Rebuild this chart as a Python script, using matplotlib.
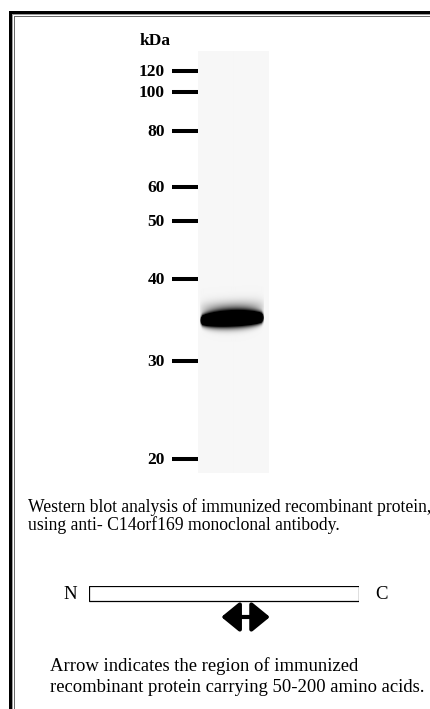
import numpy as np
import matplotlib
matplotlib.use("Agg")
import matplotlib.pyplot as plt
from matplotlib.patches import Rectangle

# ladder markers (kDa) and their migration distance from top of lane (px on gel)
marker_kda = ["120", "100", "80", "60", "50", "40", "30", "20"]
marker_pos = [20, 41, 80, 136, 170, 228, 310, 408]

# detected band
band_pos = 268      # migration distance
band_tilt = 3       # left end sits lower than right end

# protein schematic: full length and immunized region (fraction of length)
protein_len = 1.0
region = [0.49, 0.67]

caption = ["Western blot analysis of immunized recombinant protein,",
           "using anti- C14orf169 monoclonal antibody."]
note = ["Arrow indicates the region of immunized",
        "recombinant protein carrying 50-200 amino acids."]

W, H = 431, 709
fig = plt.figure(figsize=(W / 100, H / 100), dpi=100)
fig.patch.set_facecolor("white")

# background axes in pixel units for frame and text
bg = fig.add_axes([0, 0, 1, 1])
bg.set_xlim(0, W)
bg.set_ylim(H, 0)
bg.axis("off")

# frame (top and left edge, double line look)
bg.add_patch(Rectangle((9, 11), W, 3.3, color="black", lw=0))
bg.add_patch(Rectangle((9, 11), 3.3, H, color="black", lw=0))
bg.add_patch(Rectangle((12.3, 14.3), W, 1.0, color="#9a9a9a", lw=0))
bg.add_patch(Rectangle((12.3, 14.3), 1.0, H, color="#9a9a9a", lw=0))
bg.add_patch(Rectangle((14.2, 16.2), W, 1.0, color="#6a6a6a", lw=0))
bg.add_patch(Rectangle((14.2, 16.2), 1.0, H, color="#6a6a6a", lw=0))

serif = "Liberation Serif"

# gel lane
lane_top, lane_bot = 51, 473
lane_l, lane_r = 198, 268
gel = fig.add_axes([lane_l / W, 1 - lane_bot / H, (lane_r - lane_l) / W, (lane_bot - lane_top) / H])
gel.set_xlim(0, 1)
gel.set_ylim(lane_bot - lane_top, 0)
gel.axis("off")

ny, nx = lane_bot - lane_top, lane_r - lane_l
yy = (np.arange(ny) + 0.5)[:, None]
xx = ((np.arange(nx) + 0.5) / nx)[None, :]
yc = band_pos + band_tilt * (0.5 - xx)
u = np.clip(1 - ((xx - 0.48) / 0.455) ** 2, 0, 1)
half = 2.0 + 5.5 * u ** 0.4
core = 2.4 * np.exp(-((yy - yc) / half) ** 2) * np.clip(u * 6, 0, 1)
glow = 0.36 * np.exp(-((yy - yc + 10) / 8.0) ** 2) * u ** 0.5
dark = np.clip(core + glow, 0, 1)
lane = 0.965 * (1 - dark)
gel.imshow(lane, extent=(0, 1, lane_bot - lane_top, 0), cmap="gray",
           vmin=0, vmax=1, aspect="auto", interpolation="bilinear")

# ladder ticks and labels
px = 1 / (lane_r - lane_l)
gel.hlines(marker_pos, -26 * px, 0, colors="black", lw=2.9, clip_on=False)
for lab, p in zip(marker_kda, marker_pos):
    gel.text(-33 * px, p + 1, lab, ha="right", va="center", fontsize=12.5,
             fontweight="bold", family=serif, clip_on=False)
gel.text(-42.5 * px, -10, "kDa", ha="center", va="center", fontsize=12.5,
         fontweight="bold", family=serif, clip_on=False)

# caption
for i, line in enumerate(caption):
    bg.text(28, 507 + i * 18, line, ha="left", va="center", fontsize=12.7, family=serif)

# protein schematic
dia = fig.add_axes([89 / W, 1 - 630 / H, 270 / W, 44 / H])
dia.set_xlim(0, protein_len)
dia.set_ylim(44, 0)
dia.axis("off")
dia.add_patch(Rectangle((0, 0), protein_len, 15, facecolor="white", edgecolor="black", lw=0.9))
dia.text(-0.07, 8.5, "N", ha="center", va="center", fontsize=13.5, family=serif)
dia.text(1.085, 8.5, "C", ha="center", va="center", fontsize=13.5, family=serif)
dia.annotate("", xy=(region[0], 31), xytext=(region[1], 31),
             arrowprops=dict(arrowstyle="<|-|>,head_length=0.55,head_width=0.45",
                             lw=3, color="black", mutation_scale=20, shrinkA=0, shrinkB=0))

for i, line in enumerate(note):
    bg.text(50, 666 + i * 21, line, ha="left", va="center", fontsize=13.4, family=serif)

fig.savefig("out.png", dpi=100, facecolor="white")
